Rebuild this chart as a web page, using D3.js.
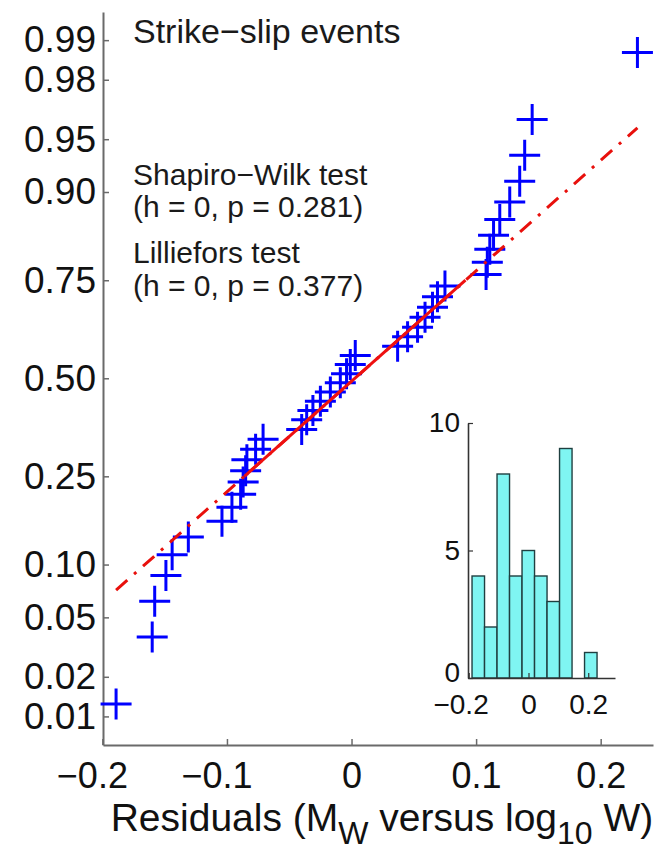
<!DOCTYPE html>
<html>
<head>
<meta charset="utf-8">
<script src="https://cdn.jsdelivr.net/npm/d3@7"></script>
<style>
  html, body { margin: 0; padding: 0; background: #fff; }
  svg { display: block; font-family: "Liberation Sans", Arial, Helvetica, sans-serif; }
</style>
</head>
<body>
<svg id="chart" width="668" height="851"></svg>
<script>
// Residuals of Mw versus log10 W for strike-slip events (sorted ascending)
const residuals = [
  -0.189, -0.160, -0.158, -0.149, -0.144, -0.131, -0.104, -0.096, -0.089, -0.087,
  -0.085, -0.084, -0.077, -0.071, -0.040, -0.036, -0.031, -0.025, -0.017, -0.009,
  -0.004, -0.001,  0.003,  0.037,  0.045,  0.053,  0.059,  0.065,  0.069,  0.075,
   0.108,  0.109,  0.111,  0.114,  0.119,  0.127,  0.135,  0.139,  0.145,  0.2295
];

// Probability axis ticks
const probTicks = [0.01, 0.02, 0.05, 0.10, 0.25, 0.50, 0.75, 0.90, 0.95, 0.98, 0.99];
const probTickLabels = ["0.01", "0.02", "0.05", "0.10", "0.25", "0.50", "0.75", "0.90", "0.95", "0.98", "0.99"];

// Residual axis ticks
const xTicks = [-0.2, -0.1, 0, 0.1, 0.2];
const xTickLabels = ["\u22120.2", "\u22120.1", "0", "0.1", "0.2"];

// Inset histogram
const histBinCount = 10;
const histXTicks = [-0.2, 0, 0.2];
const histXTickLabels = ["\u22120.2", "0", "0.2"];
const histYTicks = [0, 5, 10];

// Annotations
const titleText = "Strike\u2212slip events";
const testLines = ["Shapiro\u2212Wilk test", "(h = 0, p = 0.281)", "Lilliefors test", "(h = 0, p = 0.377)"];

// Inverse of the standard normal CDF (Acklam's rational approximation)
function probit(p) {
  const a = [-3.969683028665376e+01, 2.209460984245205e+02, -2.759285104469687e+02,
             1.383577518672690e+02, -3.066479806614716e+01, 2.506628277459239e+00];
  const b = [-5.447609879822406e+01, 1.615858368580409e+02, -1.556989798598866e+02,
             6.680131188771972e+01, -1.328068155288572e+01];
  const c = [-7.784894002430293e-03, -3.223964580411365e-01, -2.400758277161838e+00,
             -2.549732539343734e+00, 4.374664141464968e+00, 2.938163982698783e+00];
  const d = [7.784695709041462e-03, 3.224671290700398e-01, 2.445134137142996e+00,
             3.754408661907416e+00];
  const pl = 0.02425, ph = 1 - pl;
  let q, r;
  if (p < pl) {
    q = Math.sqrt(-2 * Math.log(p));
    return (((((c[0]*q+c[1])*q+c[2])*q+c[3])*q+c[4])*q+c[5]) / ((((d[0]*q+d[1])*q+d[2])*q+d[3])*q+1);
  }
  if (p > ph) {
    q = Math.sqrt(-2 * Math.log(1 - p));
    return -(((((c[0]*q+c[1])*q+c[2])*q+c[3])*q+c[4])*q+c[5]) / ((((d[0]*q+d[1])*q+d[2])*q+d[3])*q+1);
  }
  q = p - 0.5; r = q * q;
  return (((((a[0]*r+a[1])*r+a[2])*r+a[3])*r+a[4])*r+a[5])*q / (((((b[0]*r+b[1])*r+b[2])*r+b[3])*r+b[4])*r+1);
}

// Percentile with midpoint plotting positions
function prctile(sorted, p) {
  const pos = sorted.length * p + 0.5;
  const lo = Math.floor(pos), f = pos - lo;
  return sorted[lo - 1] + f * (sorted[lo] - sorted[lo - 1]);
}

const svg = d3.select("#chart");
const axisColor = "#6a6a6a";

// ---------- Main normal probability plot ----------
const x = d3.scaleLinear().domain([-0.1995, 0.2420]).range([103, 653]);
const y = d3.scaleLinear().domain([-2.523, 2.52]).range([745, 12]);

const sorted = residuals.slice().sort((a, b) => a - b);
const n = sorted.length;
const points = sorted.map((v, i) => ({ v, z: probit((i + 0.5) / n) }));

// y axis (probability scale)
const yAxis = d3.axisLeft(y)
  .tickValues(probTicks.map(probit))
  .tickFormat((d, i) => probTickLabels[i])
  .tickSizeInner(-6).tickSizeOuter(0).tickPadding(7);
const gy = svg.append("g").attr("transform", "translate(103,0)").call(yAxis);

// x axis
const xAxis = d3.axisBottom(x)
  .tickValues(xTicks)
  .tickFormat((d, i) => xTickLabels[i])
  .tickSizeInner(-6).tickSizeOuter(0).tickPadding(17.5);
const gx = svg.append("g").attr("transform", "translate(0,745)").call(xAxis);

[gx, gy].forEach(g => {
  g.select(".domain").attr("stroke", axisColor).attr("stroke-width", 2);
  g.selectAll(".tick line").attr("stroke", axisColor).attr("stroke-width", 1.5);
  g.selectAll(".tick text").attr("fill", "#111").attr("font-size", 37)
    .attr("font-family", "\"Liberation Sans\", Arial, sans-serif");
});
gx.selectAll(".tick text").attr("font-size", 36);
// the minus sign hangs to the left of the centred digits
gx.selectAll(".tick text").attr("dx", d => d < 0 ? "-0.292em" : 0);

// data markers
const half = 15.5;
svg.append("g").selectAll("path").data(points).join("path")
  .attr("d", d => {
    const cx = x(d.v), cy = y(d.z);
    return `M${cx - half},${cy}H${cx + half}M${cx},${cy - half}V${cy + half}`;
  })
  .attr("stroke", "#0000ff").attr("stroke-width", 3).attr("fill", "none");

// reference line through the quartiles
const q1 = prctile(sorted, 0.25), q3 = prctile(sorted, 0.75);
const z1 = probit(0.25), z3 = probit(0.75);
const lineZ = v => z1 + (v - q1) * (z3 - z1) / (q3 - q1);
const line = d3.line().x(d => x(d)).y(d => y(lineZ(d)));

svg.append("path")
  .attr("d", line([sorted[0], sorted[n - 1]]))
  .attr("stroke", "#e8100c").attr("stroke-width", 3).attr("fill", "none")
  .attr("stroke-dasharray", "15,9,3,9");
svg.append("path")
  .attr("d", line([q1, q3]))
  .attr("stroke", "#ee1010").attr("stroke-width", 3).attr("fill", "none");

// annotations
svg.append("text").attr("x", 133).attr("y", 43)
  .attr("font-size", 34).attr("fill", "#1a1a1a").text(titleText);
const testY = [185, 217, 263, 296];
svg.append("g").selectAll("text").data(testLines).join("text")
  .attr("x", 133).attr("y", (d, i) => testY[i])
  .attr("font-size", 30).attr("fill", "#1a1a1a").text(d => d);

// x label with subscripts
const xl = svg.append("text").attr("x", 382).attr("y", 831)
  .attr("text-anchor", "middle").attr("font-size", 39).attr("fill", "#111");
xl.append("tspan").text("Residuals (M");
xl.append("tspan").attr("font-size", 32).attr("dy", 13).text("W");
xl.append("tspan").attr("dy", -13).text(" versus log");
xl.append("tspan").attr("font-size", 32).attr("dy", 13).text("10");
xl.append("tspan").attr("dy", -13).text(" W)");

// ---------- Inset histogram ----------
const hx = d3.scaleLinear().domain([-0.2025, 0.2896]).range([468, 615]);
const hy = d3.scaleLinear().domain([0, 10]).range([678, 423]);

const lo = sorted[0], hi = sorted[n - 1];
const w = (hi - lo) / histBinCount;
const counts = new Array(histBinCount).fill(0);
sorted.forEach(v => {
  const k = Math.min(histBinCount - 1, Math.floor((v - lo) / w));
  counts[k] += 1;
});
const bins = counts.map((c, k) => ({ x0: lo + k * w, x1: lo + (k + 1) * w, count: c }));

svg.append("g").selectAll("rect").data(bins.filter(b => b.count > 0)).join("rect")
  .attr("x", b => hx(b.x0)).attr("width", b => hx(b.x1) - hx(b.x0))
  .attr("y", b => hy(b.count)).attr("height", b => hy(0) - hy(b.count))
  .attr("fill", "#7ff5f2").attr("stroke", "#1f3f40").attr("stroke-width", 1.4);

const hyAxis = d3.axisLeft(hy).tickValues(histYTicks).tickFormat(d3.format("d"))
  .tickSizeInner(-5).tickSizeOuter(0).tickPadding(8);
const hgy = svg.append("g").attr("transform", "translate(468,0)").call(hyAxis);
const hxAxis = d3.axisBottom(hx).tickValues(histXTicks).tickFormat((d, i) => histXTickLabels[i])
  .tickSizeInner(-5).tickSizeOuter(0).tickPadding(16);
const hgx = svg.append("g").attr("transform", "translate(0,678)").call(hxAxis);

[hgx, hgy].forEach(g => {
  g.select(".domain").attr("stroke", "#333").attr("stroke-width", 1.6);
  g.selectAll(".tick line").attr("stroke", "#333").attr("stroke-width", 1.2);
  g.selectAll(".tick text").attr("fill", "#111").attr("font-size", 28)
    .attr("font-family", "\"Liberation Sans\", Arial, sans-serif");
});
hgx.selectAll(".tick text").attr("dx", d => d < 0 ? "-0.292em" : 0);
hgy.selectAll(".tick text").attr("dy", d => d === 0 ? "0.12em" : "0.32em");
</script>
</body>
</html>
